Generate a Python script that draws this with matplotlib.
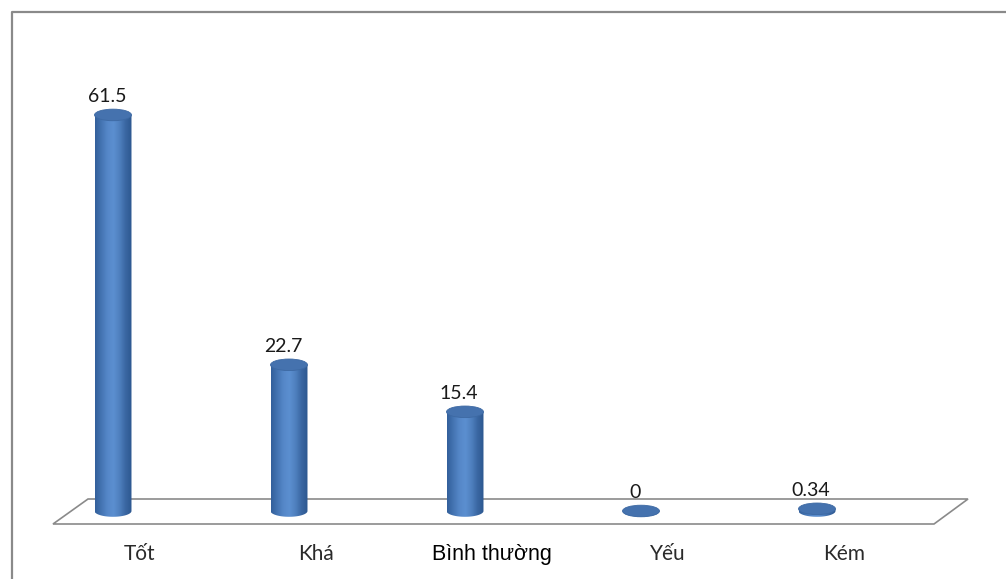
import numpy as np
import matplotlib.pyplot as plt
from matplotlib.patches import Ellipse, Polygon, PathPatch
from matplotlib.path import Path
from matplotlib.transforms import Affine2D
from matplotlib.colors import LinearSegmentedColormap

# data
categories = ['Tốt', 'Khá', 'Bình thường', 'Yếu', 'Kém']
values = [61.5, 22.7, 15.4, 0, 0.34]
value_labels = ['61.5', '22.7', '15.4', '0', '0.34']

W, H = 1006, 579
fig = plt.figure(figsize=(W / 100, H / 100), dpi=100)
fig.patch.set_facecolor('white')

# pixel coords from top-left, only used for the frame / floor decoration
px = Affine2D().scale(1 / W, -1 / H).translate(0, 1) + fig.transFigure

# outer chart border (only top and left visible)
fig.add_artist(plt.Line2D([12, 12, W], [H, 12, 12], transform=px,
                          color='#8a8a8a', lw=1.6, zorder=-2))

# 3d floor
floor = Polygon([[88, 499], [968, 499], [934, 524], [53, 524]], closed=True,
                transform=px, facecolor='white', edgecolor='#8a8a8a',
                lw=1.2, zorder=-1)
fig.add_artist(floor)

# plot area: value 0 sits at y=511px, 6.44 px per unit
ylo, yhi = -2, 65
ppu = 6.44
ax = fig.add_axes([25 / W, 1 - (511 - ylo * ppu) / H, 880 / W, (yhi - ylo) * ppu / H])
ax.patch.set_visible(False)
ax.axis('off')

bar_w = 0.21
ell_h = 1.8
cmap = LinearSegmentedColormap.from_list(
    'cyl', ['#33609b', '#4474b2', '#5587c8', '#5b8fd0', '#4f80bf', '#3a67a2', '#2d5890'])
grad = np.linspace(0, 1, 80).reshape(1, -1)

for i, v in enumerate(values):
    x0 = i - bar_w / 2
    x1 = i + bar_w / 2
    theta = np.linspace(np.pi, 2 * np.pi, 50)
    bottom = np.column_stack([i + bar_w / 2 * np.cos(theta), ell_h / 2 * np.sin(theta)])
    verts = np.vstack([[[x0, v]], bottom, [[x1, v]], [[x0, v]]])
    body = PathPatch(Path(verts, closed=True), transform=ax.transData,
                     facecolor='none', edgecolor='none')
    ax.add_patch(body)
    im = ax.imshow(grad, cmap=cmap, extent=[x0, x1, -ell_h / 2, v],
                   aspect='auto', zorder=2, interpolation='bilinear')
    im.set_clip_path(body)
    ax.add_patch(Ellipse((i, v), bar_w, ell_h, facecolor='#4572ae',
                         edgecolor='#3d69a3', lw=0.6, zorder=3))

    ax.annotate(value_labels[i], (i, v), xytext=(-4.3, 9.5), textcoords='offset points',
                ha='center', va='baseline', fontsize=14, color='#1a1a1a',
                family=['Lato', 'DejaVu Sans'])

for i, c in enumerate(categories):
    if c == 'Bình thường':
        fam, fs, col = ['Liberation Sans', 'DejaVu Sans'], 15.5, '#000000'
    else:
        fam, fs, col = ['Lato', 'DejaVu Sans'], 15, '#2a2a2a'
    ax.annotate(c, (i, 0), xytext=(19.4, -35.3), textcoords='offset points',
                ha='center', va='baseline', fontsize=fs, color=col, family=fam)

ax.set_xlim(-0.5, 4.5)
ax.set_ylim(ylo, yhi)

fig.savefig('out.png', dpi=100)
